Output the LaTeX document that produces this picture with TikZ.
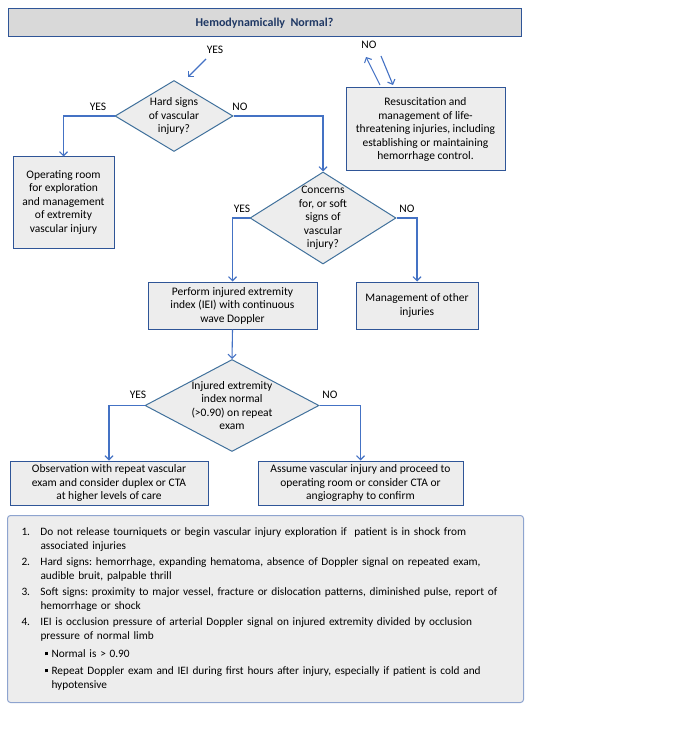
\documentclass[tikz,border=0pt]{standalone}
\usepackage{fontspec}
\setmainfont{Carlito}
\usepackage{xcolor}
\usetikzlibrary{positioning, arrows.meta, shapes.geometric}
\definecolor{edgeblue}{HTML}{2F5597}
\definecolor{diablue}{HTML}{41719C}
\definecolor{lineblue}{HTML}{4472C4}
\definecolor{notesblue}{HTML}{8EA4CF}
\definecolor{boxgray}{HTML}{EDEDED}
\definecolor{titlegray}{HTML}{D9D9D9}
\definecolor{titlenavy}{HTML}{1F3864}
\frenchspacing

\begin{document}
\begin{tikzpicture}[
    x=1pt, y=-1pt,
    font=\fontsize{11.5}{13.5}\selectfont,
    box/.style={rectangle, draw=edgeblue, fill=boxgray, line width=1pt, align=center, inner sep=0pt},
    decision/.style={diamond, draw=diablue, fill=boxgray, line width=1pt, align=center, inner sep=-15pt},
    arrow/.style={-{Straight Barb[length=4pt, width=8pt]}, draw=lineblue, line width=1.1pt},
    tag/.style={inner sep=0pt}
]
\useasboundingbox (0,0) rectangle (686,735);

\node[box, fill=titlegray, minimum width=513, minimum height=28, text=titlenavy,
      font=\fontsize{12}{14}\selectfont\bfseries] (hemo) at (264.5,23) {Hemodynamically\ \ Normal?};

\node[decision, minimum width=118, minimum height=71] (hard) at (174,116) {Hard signs\\of vascular\\injury?};
\node[box, minimum width=159, minimum height=83] (resus) at (425.5,129.5)
    {Resuscitation and\\management of life-\\threatening injuries, including\\establishing or maintaining\\hemorrhage control.};
\node[box, minimum width=101, minimum height=91] (oper) at (63.5,202.5)
    {Operating room\\for exploration\\and management\\of extremity\\vascular injury};
\node[decision, minimum width=146, minimum height=92] (soft) at (323,218)
    {Concerns\\for, or soft\\signs of\\vascular\\injury?};
\node[box, minimum width=169, minimum height=47] (perform) at (232.5,305.5)
    {Perform injured extremity\\index (IEI) with continuous\\wave Doppler};
\node[box, minimum width=122, minimum height=47] (other) at (417,305.5) {Management of other\\injuries};
\node[decision, minimum width=174, minimum height=92] (iei) at (232,405.5)
    {Injured extremity\\index normal\\(>0.90) on repeat\\exam};
\node[box, minimum width=198, minimum height=44] (obs) at (109,483)
    {Observation with repeat vascular\\exam and consider duplex or CTA\\at higher levels of care};
\node[box, minimum width=205, minimum height=44] (assume) at (360.5,483)
    {Assume vascular injury and proceed to\\operating room or consider CTA or\\angiography to confirm};

\node[box, draw=notesblue, rounded corners=3pt, anchor=north west, text width=516pt,
      minimum height=187, align=left, font=\fontsize{11.3}{14}\selectfont] (notes) at (7,515) {%
\hspace*{14pt}\begin{tabular}{@{}p{19pt}@{}l@{}}
1. & Do not release tourniquets or begin vascular injury exploration if\ \ patient is in shock from\\
   & associated injuries\\[2pt]
2. & Hard signs: hemorrhage, expanding hematoma, absence of Doppler signal on repeated exam,\\
   & audible bruit, palpable thrill\\[2pt]
3. & Soft signs: proximity to major vessel, fracture or dislocation patterns, diminished pulse, report of\\
   & hemorrhage or shock\\[2pt]
4. & IEI is occlusion pressure of arterial Doppler signal on injured extremity divided by occlusion\\
   & pressure of normal limb\\[4pt]
   & \hspace{4pt}\rule[2pt]{3pt}{3pt}\hspace{4pt}Normal is > 0.90\\[3pt]
   & \hspace{4pt}\rule[2pt]{3pt}{3pt}\hspace{4pt}Repeat Doppler exam and IEI during first hours after injury, especially if patient is cold and\\
   & \hspace{11pt}hypotensive
\end{tabular}};

\node[tag] (yes0) at (215,50) {YES};
\node[tag] (no0) at (369,45) {NO};
\node[tag] (yes1) at (98,107) {YES};
\node[tag] (no1) at (240,107) {NO};
\node[tag] (yes2) at (242,209) {YES};
\node[tag] (no2) at (407,209) {NO};
\node[tag] (yes3) at (138,395) {YES};
\node[tag] (no3) at (330,395) {NO};

\coordinate (yesfrom) at (206,59);
\coordinate (yesto) at (188,77);
\coordinate (resusout) at (380,85);
\coordinate (noup) at (366,57);
\coordinate (nodown) at (381,56);
\coordinate (resusin) at (393,85);

\draw[arrow] (yesfrom) -- (yesto);
\draw[arrow] (resusout) -- (noup);
\draw[arrow] (nodown) -- (resusin);
\draw[arrow] (hard.west) -| (oper.north);
\draw[arrow] (hard.east) -| (soft.north);
\draw[arrow] (soft.west) -| (perform.north);
\draw[arrow] (soft.east) -| (other.north);
\draw[arrow] (perform.south) -- (iei.north);
\draw[arrow] (iei.west) -| (obs.north);
\draw[arrow] (iei.east) -| (assume.north);
\end{tikzpicture}
\end{document}
